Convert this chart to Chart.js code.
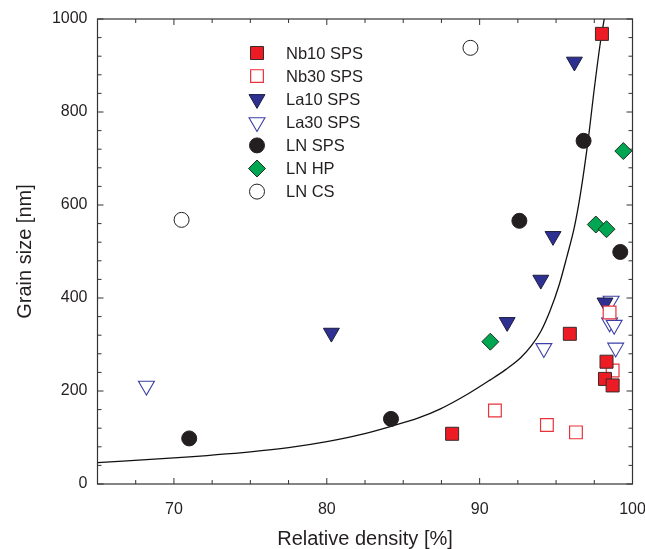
<!DOCTYPE html>
<html>
<head>
<meta charset="utf-8">
<script src="https://cdn.jsdelivr.net/npm/chart.js"></script>
<style>
  html, body { margin: 0; padding: 0; background: #fff; }
  #wrap { width: 645px; height: 549px; }
</style>
</head>
<body>
<div id="wrap"><canvas id="chart" width="645" height="549"></canvas></div>
<script>
// values
const nb10Density = [98.0, 88.2, 95.9, 98.3, 98.2, 98.7];
const nb10Grain   = [968, 108, 323, 263, 226, 212];

const nb30Density = [91.0, 94.4, 96.3, 98.7, 98.5];
const nb30Grain   = [158, 127, 111, 244, 369];

const la10Density = [96.2, 94.8, 94.0, 91.8, 98.2, 80.3];
const la10Grain   = [908, 533, 439, 348, 390, 325];

const la30Density = [68.2, 94.2, 98.9, 98.6, 98.5, 98.8];
const la30Grain   = [211, 292, 293, 394, 347, 342];

const lnSpsDensity = [71.0, 84.2, 92.6, 96.8, 99.2];
const lnSpsGrain   = [98, 140, 566, 738, 499];

const lnHpDensity = [90.7, 97.6, 98.3, 99.4];
const lnHpGrain   = [306, 558, 548, 716];

const lnCsDensity = [70.5, 89.4];
const lnCsGrain   = [568, 938];

// line
const curveDensity = [65, 70, 75, 77.5, 80, 82.2, 84.2, 86.0, 87.4, 89.2, 90.7, 91.7, 92.7, 93.4, 94.0, 94.6, 95.2, 95.7, 96.2, 96.6, 97.1, 97.5, 97.9, 98.15];
const curveGrain   = [46, 56, 69, 78, 91, 106, 124, 142, 161, 193, 224, 246, 272, 298, 328, 372, 428, 488, 553, 625, 740, 850, 950, 1000];

const xTicks = [70, 80, 90, 100];
const yTicks = [0, 200, 400, 600, 800, 1000];

const pts = (xs, ys) => xs.map((v, i) => ({x: v, y: ys[i]}));

Chart.defaults.font.family = '"Liberation Sans", Arial, sans-serif';
Chart.defaults.color = '#231f20';

const RED = '#ed1c24', NAVY = '#2e3192', GREEN = '#00a651', BLACK = '#231f20';

const datasets = [
    {label: 'Nb10 SPS', data: pts(nb10Density, nb10Grain), pointStyle: 'rect', pointRadius: 9.2,
     backgroundColor: RED, borderColor: '#3a2a2a', pointBorderWidth: 1},
    {label: 'Nb30 SPS', data: pts(nb30Density, nb30Grain), pointStyle: 'rect', pointRadius: 9,
     backgroundColor: '#fff', borderColor: '#e8333b', pointBorderWidth: 1.2},
    {label: 'La10 SPS', data: pts(la10Density, la10Grain), pointStyle: 'triangle', rotation: 180, pointRadius: 9.2,
     backgroundColor: NAVY, borderColor: '#1c1c40', pointBorderWidth: 1},
    {label: 'La30 SPS', data: pts(la30Density, la30Grain), pointStyle: 'triangle', rotation: 180, pointRadius: 9.2,
     backgroundColor: '#fff', borderColor: '#3b3fa6', pointBorderWidth: 1.1},
    {label: 'LN SPS', data: pts(lnSpsDensity, lnSpsGrain), pointStyle: 'circle', pointRadius: 7.5,
     backgroundColor: BLACK, borderColor: BLACK, pointBorderWidth: 1},
    {label: 'LN HP', data: pts(lnHpDensity, lnHpGrain), pointStyle: 'rectRot', pointRadius: 8.5,
     backgroundColor: GREEN, borderColor: '#1e3020', pointBorderWidth: 1},
    {label: 'LN CS', data: pts(lnCsDensity, lnCsGrain), pointStyle: 'circle', pointRadius: 7.5,
     backgroundColor: '#fff', borderColor: BLACK, pointBorderWidth: 1},
    {label: 'fit', data: pts(curveDensity, curveGrain), showLine: true, pointRadius: 0,
     borderColor: '#111', borderWidth: 1.3, cubicInterpolationMode: 'monotone', order: 10, hideInLegend: true}
];

// legend drawn inside the plot, top-left
const insideLegend = {
    id: 'insideLegend',
    afterDraw(chart) {
        const ctx = chart.ctx;
        const drawPoint = Chart.helpers && Chart.helpers.drawPoint;
        let row = 0;
        ctx.save();
        chart.data.datasets.forEach(ds => {
            if (ds.hideInLegend) return;
            const y = 53 + row * 23.1;
            if (drawPoint) {
                ctx.fillStyle = ds.backgroundColor;
                ctx.strokeStyle = ds.borderColor;
                ctx.lineWidth = ds.pointBorderWidth;
                drawPoint(ctx, {pointStyle: ds.pointStyle, radius: ds.pointRadius,
                    rotation: ds.rotation || 0, borderWidth: ds.pointBorderWidth}, 257, y);
            }
            ctx.fillStyle = '#231f20';
            ctx.font = '16.5px "Liberation Sans", Arial, sans-serif';
            ctx.textAlign = 'left';
            ctx.textBaseline = 'middle';
            ctx.fillText(ds.label, 286, y + 1);
            row++;
        });
        ctx.restore();
    }
};

// frame with inward ticks on all four sides
const frameTicks = {
    id: 'frameTicks',
    beforeDatasetsDraw(chart) {
        const {ctx, chartArea: a, scales: {x, y}} = chart;
        ctx.save();
        ctx.strokeStyle = '#333';
        ctx.lineWidth = 1.2;
        ctx.strokeRect(a.left, a.top, a.right - a.left, a.bottom - a.top);
        ctx.lineWidth = 1;
        ctx.beginPath();
        x.ticks.forEach(t => {
            const px = x.getPixelForValue(t.value);
            const len = xTicks.includes(t.value) ? 6 : 4;
            ctx.moveTo(px, a.bottom); ctx.lineTo(px, a.bottom - len);
            ctx.moveTo(px, a.top); ctx.lineTo(px, a.top + len);
        });
        y.ticks.forEach(t => {
            const py = y.getPixelForValue(t.value);
            const len = yTicks.includes(t.value) ? 6 : 4;
            ctx.moveTo(a.left, py); ctx.lineTo(a.left + len, py);
            ctx.moveTo(a.right, py); ctx.lineTo(a.right - len, py);
        });
        ctx.stroke();
        ctx.restore();
    }
};

new Chart(document.getElementById('chart'), {
    type: 'scatter',
    data: {datasets: datasets},
    options: {
        responsive: false,
        animation: false,
        layout: {padding: {top: 19, right: 12.5, left: 0, bottom: 0}},
        plugins: {legend: {display: false}, tooltip: {enabled: false}},
        scales: {
            x: {
                type: 'linear', min: 65, max: 100,
                grid: {display: false, drawTicks: false},
                border: {display: false},
                ticks: {
                    stepSize: 2.5, autoSkip: false, maxRotation: 0, padding: 16,
                    font: {size: 16},
                    callback: v => xTicks.includes(v) ? String(v) : ''
                },
                title: {display: true, text: 'Relative density [%]', font: {size: 20, lineHeight: 1}, padding: {top: 0, bottom: 0}},
                afterFit: s => { s.height = 65; s.paddingLeft = 0; s.paddingRight = 0; }
            },
            y: {
                type: 'linear', min: 0, max: 1000,
                grid: {display: false, drawTicks: false},
                border: {display: false},
                ticks: {
                    stepSize: 40, autoSkip: false, padding: 10,
                    font: {size: 16},
                    callback: v => yTicks.includes(v) ? String(v) : ''
                },
                title: {display: true, text: 'Grain size [nm]', font: {size: 20, lineHeight: 1.2}, padding: {top: 13, bottom: 0}},
                afterFit: s => { s.width = 97.5; s.paddingTop = 0; s.paddingBottom = 0; }
            }
        }
    },
    plugins: [frameTicks, insideLegend]
});
</script>
</body>
</html>
